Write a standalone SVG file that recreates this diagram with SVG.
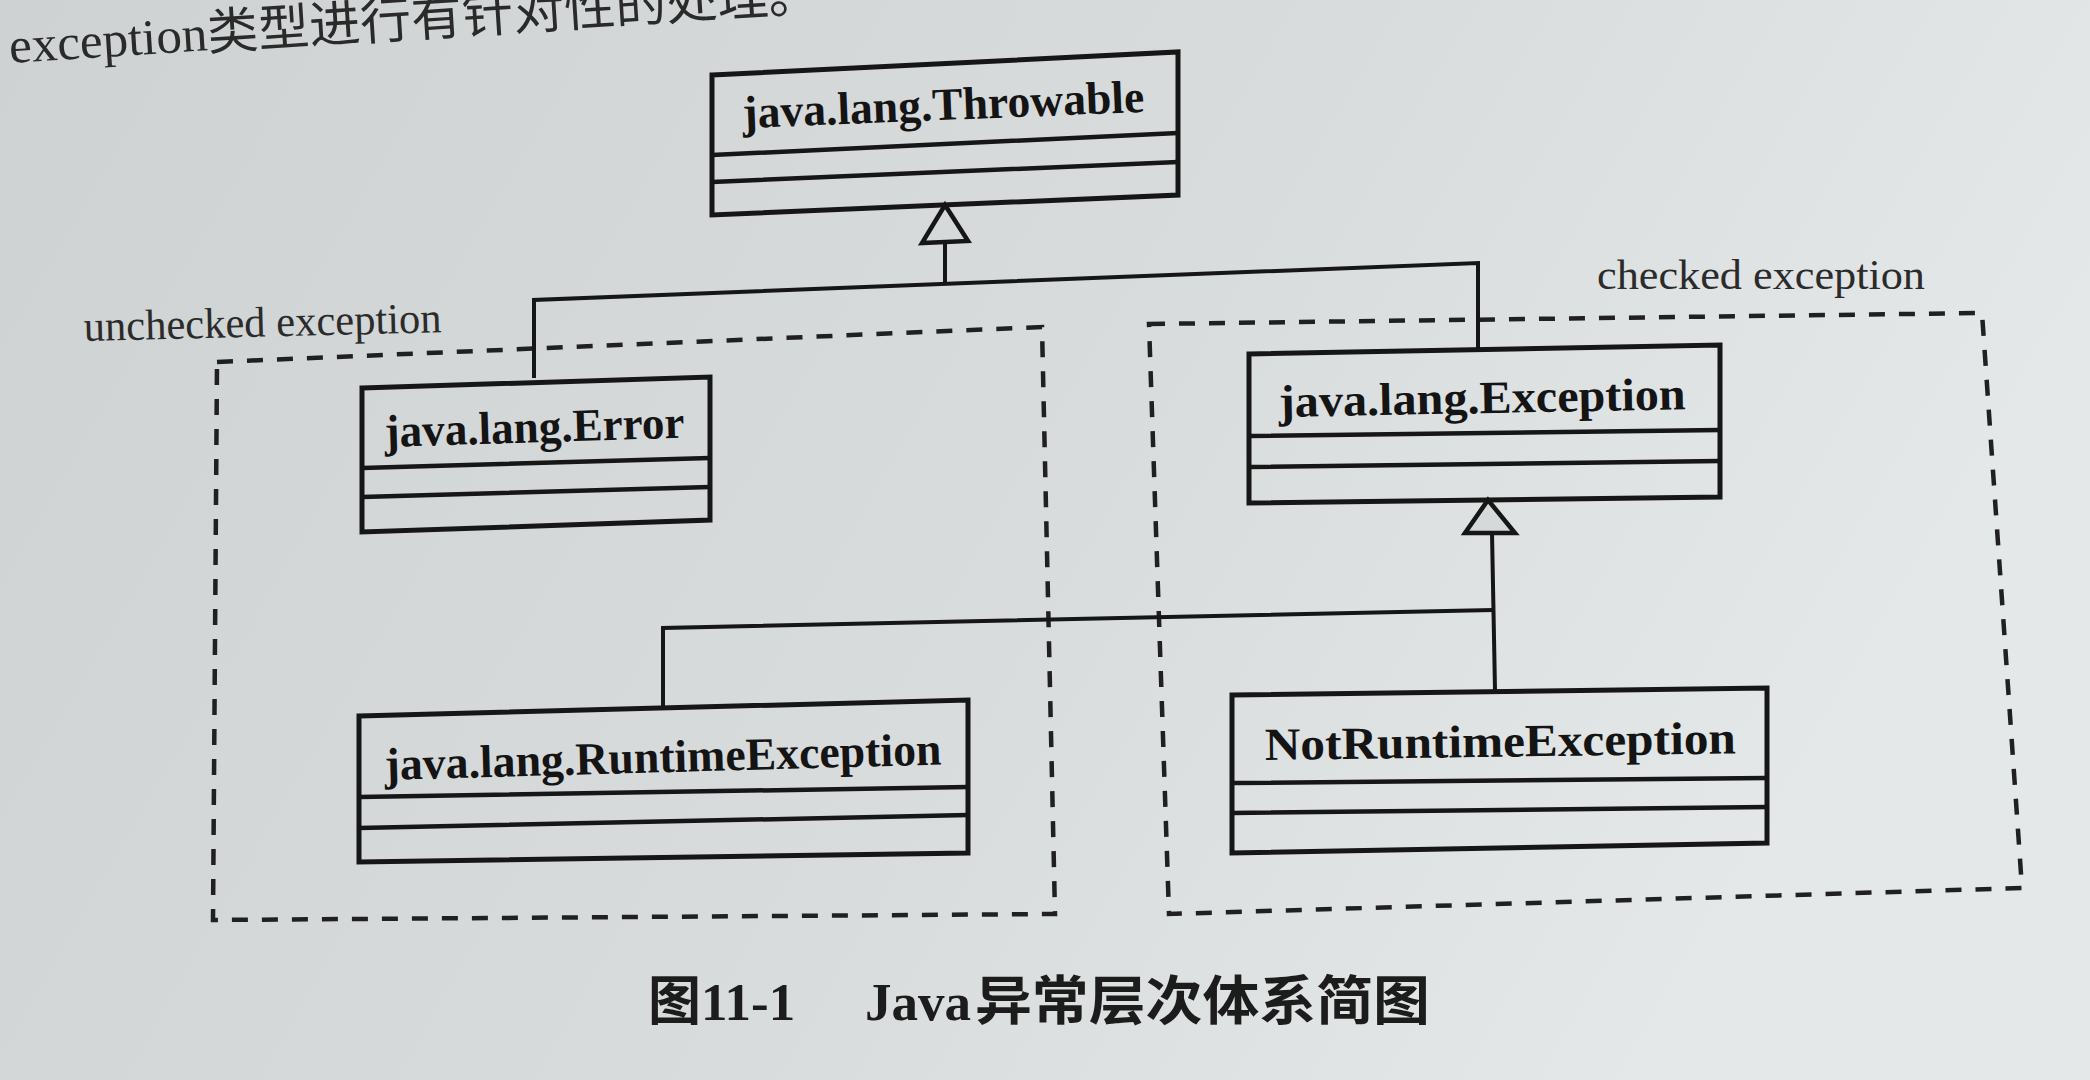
<svg xmlns="http://www.w3.org/2000/svg" width="2090" height="1080" viewBox="0 0 2090 1080">
  <defs>
    <linearGradient id="paper" x1="0" y1="0" x2="1" y2="0.3">
      <stop offset="0" stop-color="#cfd2d2"/>
      <stop offset="0.6" stop-color="#d9dcdc"/>
      <stop offset="1" stop-color="#e4e8e8"/>
    </linearGradient>
    <style>
      .box { fill: none; stroke: #161616; stroke-width: 5; stroke-linejoin: miter; }
      .div { stroke: #161616; stroke-width: 4.5; fill: none; }
      .conn { stroke: #161616; stroke-width: 4; fill: none; }
      .tri { fill: #d6d9d9; stroke: #161616; stroke-width: 4.5; stroke-linejoin: miter; }
      .dash { fill: none; stroke: #202020; stroke-width: 4.5; stroke-dasharray: 16 14; }
      .name { font-family: "Liberation Serif", "Times New Roman", serif; font-weight: bold; font-size: 46px; fill: #141414; }
      .label { font-family: "Liberation Serif", "Times New Roman", serif; font-size: 43px; fill: #2b2b2b; }
      .page { font-family: "Liberation Serif", "Noto Sans CJK SC", serif; font-size: 50px; fill: #2a2a2a; }
      .caption { font-family: "Liberation Serif", "Noto Sans CJK SC", serif; font-weight: bold; font-size: 53px; fill: #1c1c1c; }
    </style>
  </defs>

  <rect x="0" y="0" width="2090" height="1080" fill="url(#paper)"/>

  <!-- page text cut at the top -->
  <text class="page" x="10" y="63" transform="rotate(-3.7 10 63)" textLength="812" lengthAdjust="spacingAndGlyphs">exception类型进行有针对性的处理。</text>

  <!-- dashed grouping regions -->
  <g id="group-unchecked">
    <path class="dash" d="M217,362 L1042,327 L1055,914 L213,920 Z"/>
    <text class="label" x="84" y="341" transform="rotate(-1.4 84 341)" textLength="358" lengthAdjust="spacingAndGlyphs">unchecked exception</text>
  </g>
  <g id="group-checked">
    <path class="dash" d="M1149,324 L1982,313 L2022,888 L1169,914 Z"/>
    <text class="label" x="1597" y="289" textLength="328" lengthAdjust="spacingAndGlyphs">checked exception</text>
  </g>

  <!-- connectors -->
  <g id="connectors">
    <path class="conn" d="M534,378 L534,300 L1478,263 L1478,350"/>
    <path class="conn" d="M945,284 L945,242"/>
    <path class="tri" d="M945,205 L968,241 L922,243 Z"/>
    <path class="conn" d="M1495,690 L1492,533"/>
    <path class="tri" d="M1488,500 L1515,533 L1465,533 Z"/>
    <path class="conn" d="M663,709 L663,628 L1493,610"/>
  </g>

  <!-- nodes -->
  <g id="node-throwable">
    <path class="box" d="M712,75 L1178,52 L1178,195 L712,215 Z"/>
    <path class="div" d="M712,155 L1178,133 M712,182 L1178,162"/>
    <text class="name" x="743" y="128" transform="rotate(-2.3 743 128)" textLength="402" lengthAdjust="spacingAndGlyphs">java.lang.Throwable</text>
  </g>

  <g id="node-error">
    <path class="box" d="M362,388 L710,377 L710,520 L362,532 Z"/>
    <path class="div" d="M362,468 L710,458 M362,497 L710,487"/>
    <text class="name" x="385" y="447" transform="rotate(-1.8 385 447)" textLength="300" lengthAdjust="spacingAndGlyphs">java.lang.Error</text>
  </g>

  <g id="node-runtime">
    <path class="box" d="M359,716 L968,700 L968,853 L359,862 Z"/>
    <path class="div" d="M359,797 L968,787 M359,828 L968,815"/>
    <text class="name" x="385" y="780" transform="rotate(-1.6 385 780)" textLength="557" lengthAdjust="spacingAndGlyphs">java.lang.RuntimeException</text>
  </g>

  <g id="node-exception">
    <path class="box" d="M1249,354 L1720,345 L1720,497 L1249,503 Z"/>
    <path class="div" d="M1249,436 L1720,430 M1249,467 L1720,461"/>
    <text class="name" x="1279" y="417" transform="rotate(-1.1 1279 417)" textLength="407" lengthAdjust="spacingAndGlyphs">java.lang.Exception</text>
  </g>

  <g id="node-notruntime">
    <path class="box" d="M1232,695 L1767,688 L1767,843 L1232,853 Z"/>
    <path class="div" d="M1232,783 L1767,778 M1232,813 L1767,807"/>
    <text class="name" x="1265" y="760" transform="rotate(-0.8 1265 760)" textLength="471" lengthAdjust="spacingAndGlyphs">NotRuntimeException</text>
  </g>

  <!-- caption -->
  <text class="caption" y="1020"><tspan x="648">图11-1</tspan><tspan x="865">Java</tspan><tspan x="975" textLength="455" lengthAdjust="spacingAndGlyphs">异常层次体系简图</tspan></text>
</svg>
